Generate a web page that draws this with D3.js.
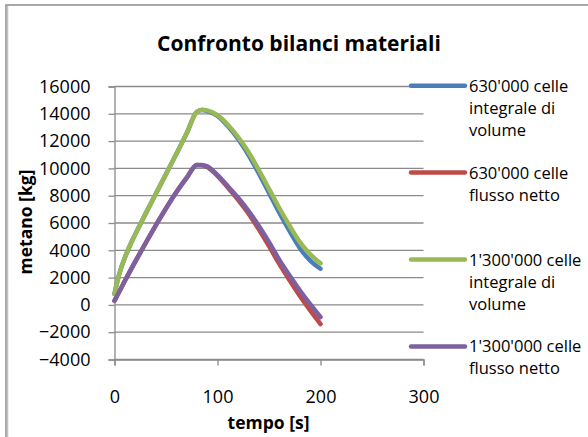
<!DOCTYPE html>
<meta charset="utf-8">
<head>
<style>
  body { margin: 0; background: #fff; }
  text { font-family: "Open Sans", sans-serif; fill: #000; }
</style>
</head>
<body>
<script src="https://cdnjs.cloudflare.com/ajax/libs/d3/7.8.5/d3.min.js"></script>
<script>

// time [s] shared by all series
var tempo = [0, 3, 6, 10, 15, 20, 30, 45, 60, 70, 80, 85, 90, 100, 110, 120, 130, 140, 150, 160, 170, 180, 190, 200];

// metano [kg]
var blu630 =    [800, 1800, 2600, 3450, 4350, 5150, 6650, 8850, 11050, 12550, 14150, 14280, 14200, 13850, 13100, 12150, 11000, 9650, 8200, 6750, 5400, 4150, 3250, 2650];
var rosso630 =  [300, 740, 1170, 1750, 2460, 3150, 4500, 6450, 8250, 9300, 10250, 10220, 10100, 9450, 8600, 7700, 6700, 5550, 4300, 3000, 1800, 650, -400, -1400];
var verde1300 = [800, 1800, 2600, 3450, 4350, 5150, 6650, 8850, 11050, 12550, 14150, 14300, 14250, 13900, 13200, 12300, 11200, 9900, 8500, 7100, 5800, 4600, 3700, 3050];
var viola1300 = [300, 740, 1170, 1750, 2460, 3150, 4500, 6450, 8250, 9300, 10250, 10250, 10150, 9500, 8700, 7850, 6900, 5800, 4600, 3300, 2150, 1050, 50, -900];

var seriesNames = [["630'000 celle", "integrale di", "volume"], ["630'000 celle", "flusso netto"],
                   ["1'300'000 celle", "integrale di", "volume"], ["1'300'000 celle", "flusso netto"]];
var seriesColors = ["#4A7EBB", "#BE4B48", "#98B954", "#7D60A0"];
var seriesValues = [blu630, rosso630, verde1300, viola1300];

var xTicks = [0, 100, 200, 300];
var yTicks = [-4000, -2000, 0, 2000, 4000, 6000, 8000, 10000, 12000, 14000, 16000];

var width = 588, height = 437;

var svg = d3.select("body").append("svg")
    .attr("width", width)
    .attr("height", height);

// chart border
svg.append("rect")
    .attr("x", 6).attr("y", 5)
    .attr("width", 640).attr("height", 480)
    .attr("fill", "none")
    .attr("stroke", "#8c8c8c")
    .attr("stroke-width", 1.5);
svg.append("line")
    .attr("x1", 7.5).attr("x2", 7.5).attr("y1", 6).attr("y2", height)
    .attr("stroke", "#c4c4c4").attr("stroke-width", 1.5);

var x = d3.scaleLinear().domain([0, 300]).range([114.5, 423.5]);
var y = d3.scaleLinear().domain([-4000, 16000]).range([359.5, 86.5]);

// gridlines
svg.append("g")
    .selectAll("line")
    .data(yTicks)
    .enter().append("line")
    .attr("x1", x(0)).attr("x2", x(300))
    .attr("y1", d => y(d)).attr("y2", d => y(d))
    .attr("stroke", "#8a8a8a")
    .attr("stroke-width", 1.3);

// axes
var yAxis = svg.append("g")
    .attr("transform", "translate(" + x(0) + ",0)")
    .call(d3.axisLeft(y).tickValues(yTicks).tickSize(6).tickPadding(18).tickFormat(d3.format("d")));
var xAxis = svg.append("g")
    .attr("transform", "translate(0," + y(-4000) + ")")
    .call(d3.axisBottom(x).tickValues(xTicks).tickSize(6).tickPadding(25).tickFormat(d3.format("d")));

[yAxis, xAxis].forEach(function(a) {
  a.select(".domain").attr("stroke", "#8a8a8a").attr("stroke-width", 1.3);
  a.selectAll(".tick line").attr("stroke", "#8a8a8a").attr("stroke-width", 1.3);
  a.selectAll(".tick text").style("font-family", "'Open Sans', sans-serif").style("font-size", "18px").attr("fill", "#000");
});

// series lines
var line = d3.line()
    .x((d, i) => x(tempo[i]))
    .y(d => y(d))
    .curve(d3.curveMonotoneX);

svg.append("g")
    .selectAll("path")
    .data(seriesValues)
    .enter().append("path")
    .attr("d", line)
    .attr("fill", "none")
    .attr("stroke", (d, i) => seriesColors[i])
    .attr("stroke-width", 4.5)
    .attr("stroke-linecap", "round")
    .attr("stroke-linejoin", "round");

// title
svg.append("text")
    .attr("x", 299).attr("y", 51)
    .attr("text-anchor", "middle")
    .style("font-size", "21px")
    .style("font-weight", "bold")
    .text("Confronto bilanci materiali");

// axis titles
svg.append("text")
    .attr("transform", "translate(32,222) rotate(-90)")
    .attr("text-anchor", "middle")
    .style("font-size", "17.5px")
    .style("font-weight", "bold")
    .text("metano [kg]");

svg.append("text")
    .attr("x", 268.5).attr("y", 429)
    .attr("text-anchor", "middle")
    .style("font-size", "17.5px")
    .style("font-weight", "bold")
    .text("tempo [s]");

// legend
var legend = svg.append("g")
    .selectAll("g")
    .data(seriesNames)
    .enter().append("g")
    .attr("transform", (d, i) => "translate(0," + (85.7 + i * 86.9) + ")");

legend.append("line")
    .attr("x1", 411).attr("x2", 465)
    .attr("stroke", (d, i) => seriesColors[i])
    .attr("stroke-width", 4.5)
    .attr("stroke-linecap", "round");

legend.append("text")
    .style("font-size", "16.5px")
    .selectAll("tspan")
    .data(d => d)
    .enter().append("tspan")
    .attr("x", 469)
    .attr("y", (d, i) => 6 + i * 22)
    .text(d => d);

</script>
</body>
